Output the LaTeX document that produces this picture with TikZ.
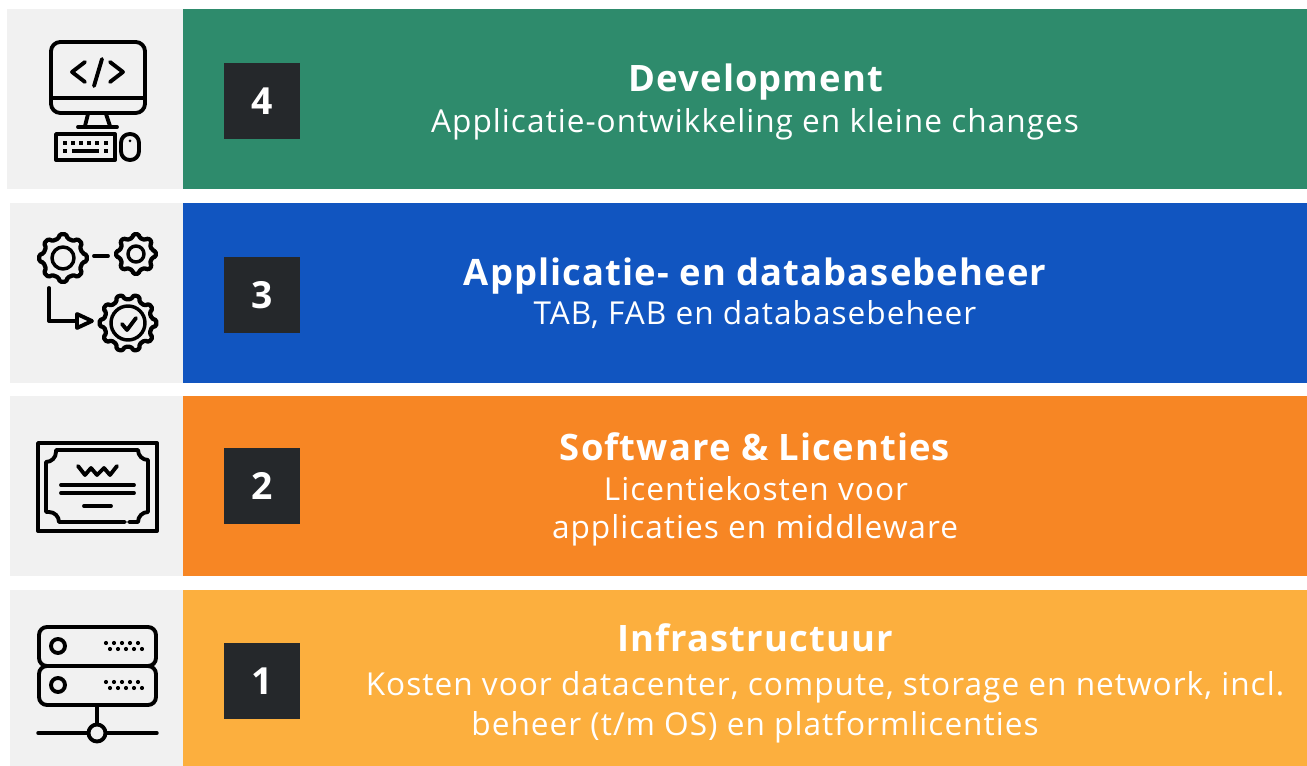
\documentclass[tikz,border=0pt]{standalone}
\usepackage{fontspec}
\setmainfont{Open Sans}
\newfontface\subfont[LetterSpace=3.2]{Open Sans}
\newfontface\headfont[LetterSpace=3,UprightFont=* Bold]{Open Sans}
\newfontface\numfont{Open Sans Bold}
\definecolor{cgreen}{HTML}{2E8B6C}
\definecolor{cblue}{HTML}{1155C0}
\definecolor{corange}{HTML}{F78624}
\definecolor{clight}{HTML}{FCAF3E}
\definecolor{cdark}{HTML}{25282B}
\definecolor{cgray}{HTML}{F1F1F1}
\tikzset{
  x=0.75pt,y=-0.75pt,
  ico/.style={draw=black,line width=2.9pt,line join=round,line cap=round},
  thin ico/.style={draw=black,line width=2.6pt,line join=round,line cap=round},
  gear ico/.style={draw=black,line width=3.2pt,line join=round,line cap=round},
  numbox/.style={fill=cdark,minimum width=57pt,minimum height=57pt,inner sep=0pt,text=white,font=\numfont\fontsize{28}{28}\selectfont},
  headtxt/.style={anchor=base,text=white,inner sep=0pt,font=\headfont\fontsize{27.3}{27.3}\selectfont},
  subtxt/.style={anchor=base,text=white,inner sep=0pt,font=\subfont\fontsize{23.7}{23.7}\selectfont},
}
% centre x, centre y, outer radius, root radius, teeth
\newcommand{\gearicon}[5]{%
  \begin{scope}[shift={(#1,#2)}]
    \pgfmathsetmacro{\gstep}{360/#5}
    \draw[gear ico,rounded corners=1pt]
      (-.3*\gstep:#4)
      \foreach \gi in {1,...,#5}{
        -- ({(\gi-1)*\gstep-.3*\gstep}:#4)
        -- ({(\gi-1)*\gstep-.16*\gstep}:#3)
        -- ({(\gi-1)*\gstep+.16*\gstep}:#3)
        -- ({(\gi-1)*\gstep+.3*\gstep}:#4)
      } -- cycle;
  \end{scope}}
\begin{document}
\begin{tikzpicture}
\useasboundingbox (0,0) rectangle (1307,766);
% bands
\fill[cgray] (7,9) rectangle (183,189);
\fill[cgreen] (183,9) rectangle (1307,189);
\fill[cgray] (10,203) rectangle (183,383);
\fill[cblue] (183,203) rectangle (1307,383);
\fill[cgray] (10,396) rectangle (183,576);
\fill[corange] (183,396) rectangle (1307,576);
\fill[cgray] (10,590) rectangle (183,766);
\fill[clight] (183,590) rectangle (1307,766);
% number boxes
\node[numbox] (n4) at (262,101) {4};
\node[numbox] (n3) at (262,295) {3};
\node[numbox] (n2) at (262,486) {2};
\node[numbox] (n1) at (262,681) {1};
% texts
\node[headtxt] (h4) at (756,92) {Development};
\node[subtxt] (s4) at (755,133) {Applicatie-ontwikkeling en kleine changes};
\node[headtxt] (h3) at (755,286) {Applicatie- en databasebeheer};
\node[subtxt] (s3) at (755,325) {TAB, FAB en databasebeheer};
\node[headtxt] (h2) at (755,460) {Software \& Licenties};
\node[subtxt] (s2a) at (756,500) {Licentiekosten voor};
\node[subtxt] (s2b) at (755,538) {applicaties en middleware};
\node[headtxt] (h1) at (755,651) {Infrastructuur};
\node[subtxt] (s1a) at (825,695) {Kosten voor datacenter, compute, storage en network, incl.};
\node[subtxt] (s1b) at (755,735) {beheer (t/m OS) en platformlicenties};
% icon 4
\draw[ico,rounded corners=7pt] (51,42) rectangle (145,113);
\draw[ico] (51,98) -- (145,98);
\draw[ico] (85,62) -- (72,72) -- (85,82);
\draw[ico] (102,59) -- (94,86);
\draw[ico] (110,62) -- (123,72) -- (110,82);
\draw[ico] (88,114) -- (85,126);
\draw[ico] (106,114) -- (110,126);
\draw[ico] (78,127) -- (117,127);
\draw[ico] (56,134) rectangle (115,160);
\draw[ico,rounded corners=6.5pt] (121,134) rectangle (139,160);
\fill (130,141) circle (1.5);
\foreach \kx in {65,73,81,89,97,106}{\fill (\kx-2,141) rectangle (\kx+2,145);}
\fill (63,149) rectangle (67,153);
\fill (72,149) rectangle (99,153);
\fill (104,149) rectangle (108,153);
% icon 3
\gearicon{63}{258}{24}{20}{8}
\draw[thin ico] (63,258) circle (11);
\gearicon{136}{254}{20}{16.5}{8}
\draw[thin ico] (136,254) circle (8);
\draw[ico] (94,256) -- (108,256);
\draw[ico] (49,288) -- (49,321) -- (77,321);
\draw[ico] (77,314) -- (92,321) -- (77,328) -- cycle;
\gearicon{128}{323}{28.5}{24}{10}
\draw[thin ico] (128,323) circle (17);
\draw[ico] (122,324) -- (127,330) -- (136,318);
% icon 2
\draw[ico] (38,443) rectangle (157,531);
\draw[ico] (125,522) -- (59,522) arc[start angle=0,end angle=-90,radius=10] -- (46,512)
  -- (46,462) arc[start angle=90,end angle=0,radius=10] -- (56,450) -- (138,450)
  arc[start angle=180,end angle=90,radius=10] -- (148,462) -- (148,512)
  arc[start angle=-90,end angle=-180,radius=10] -- (129,522);
\draw[ico] (78,466) -- (85,475) -- (91,468) -- (97,475) -- (104,468) -- (110,475) -- (117,466);
\draw[ico] (61,485) -- (134,485);
\draw[ico] (61,493) -- (134,493);
\draw[ico] (84,506) -- (111,506);
% icon 1
\draw[ico,rounded corners=6pt] (39,627) rectangle (156,666);
\draw[ico,rounded corners=6pt] (39,666) rectangle (156,705);
\draw[ico] (58,646) circle (7);
\draw[ico] (58,685) circle (7);
\foreach \dy in {0,39}{
  \foreach \dx in {106,114,122,130,138}{\fill (\dx,643+\dy) circle (2.1);}
  \foreach \dx in {110,118,126,134,142}{\fill (\dx,649+\dy) circle (2.1);}
}
\draw[ico] (97,705) -- (97,723);
\draw[thin ico] (38,733) -- (157,733);
\draw[ico,fill=cgray] (97,733) circle (8.5);
\end{tikzpicture}
\end{document}
